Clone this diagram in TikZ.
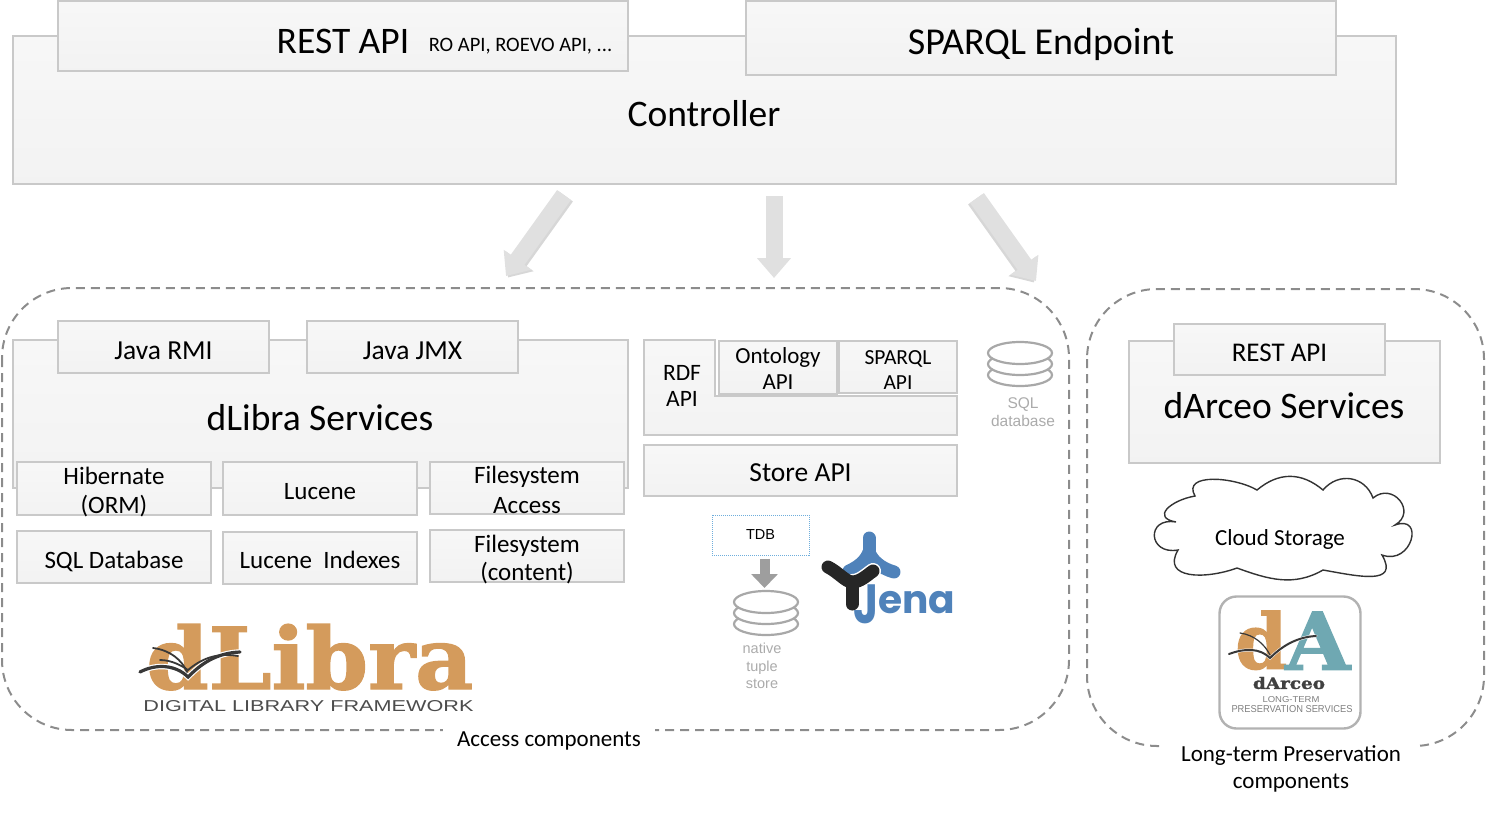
\documentclass[tikz,border=0pt]{standalone}
\usepackage{fontspec}
\setmainfont{Carlito}
\newfontfamily\greyFont{Liberation Sans}
\newfontfamily\slabFont{DejaVu Serif}[BoldFeatures={FakeBold=1.5}]
\newfontfamily\jenaFont{Poppins}
\usetikzlibrary{arrows.meta}
\definecolor{panelLine}{HTML}{C9C9C9}
\definecolor{dashLine}{HTML}{8C8C8C}
\definecolor{arrowGrey}{HTML}{E0E0E0}
\definecolor{arrowShade}{HTML}{BDBDBD}
\definecolor{dbGrey}{HTML}{A8A8A8}
\definecolor{labelGrey}{HTML}{ABABAB}
\definecolor{libraOrange}{HTML}{D49B5C}
\definecolor{arceoTeal}{HTML}{6FA8B2}
\definecolor{jenaBlue}{HTML}{4F82BA}
\definecolor{tdbBlue}{HTML}{6FAEDC}
\newcommand{\sizePx}[1]{\fontsize{#1}{#1}\selectfont}
\newcommand{\lowText}[2][6pt]{\raisebox{\dimexpr-#1-.25em\relax}[0pt][0pt]{\begin{tabular}{@{}c@{}}#2\end{tabular}}}
\begin{document}
\begin{tikzpicture}[x=1pt,y=-1pt,
                      panelNode/.style 2 args={rectangle,draw=panelLine,line width=2pt,top color=white!97!black,
                        bottom color=white!95!black,minimum width=#1,minimum height=#2,inner sep=0pt,outer sep=0pt,
                        align=center,font=\sizePx{25},text=black},
                      bigText/.style={font=\sizePx{37.5},inner sep=0pt},
                      groupBox/.style={draw=dashLine,line width=2pt,dash pattern=on 9pt off 6pt,rounded corners=70pt},
                      groupLabel/.style={fill=white,inner sep=0pt,align=center,font=\sizePx{23}},
                      blockArrow/.style={line width=17pt,draw=arrowGrey,-{Triangle[length=20pt,width=33pt]}},
                      blockShade/.style={line width=17pt,draw=arrowShade,opacity=.6,-{Triangle[length=20pt,width=33pt]}},
                      greyLabel/.style={font=\greyFont\sizePx{15.5},text=labelGrey,inner sep=0pt,align=center},
                      bookLine/.style={line width=3.2pt,draw=black!78,line cap=round},
                      dbStack/.pic={
                        \draw[dbGrey,line width=2.2pt,fill=white] (0,22) ellipse [x radius=32,y radius=11];
                        \draw[dbGrey,line width=2.2pt,fill=white] (0,11) ellipse [x radius=32,y radius=11];
                        \draw[dbGrey,line width=2.2pt,fill=white] (0,0) ellipse [x radius=32,y radius=11];
                      }]
    \useasboundingbox (0,0) rectangle (1487,822);

    \node [panelNode={1383pt}{148pt}] (controller) at (704.5,110) {};
    \node [panelNode={570pt}{70pt}] (restApi) at (343,36) {};
    \node [panelNode={590pt}{74pt}] (sparqlEndpoint) at (1041,38) {};
    \node [bigText] (restText) at (343,41) {REST API};
    \node [font=\sizePx{20.5},inner sep=0pt] (roText) at (520.5,46) {RO API, ROEVO API, ...};
    \node [bigText,font=\sizePx{38}] (sparqlText) at (1041,44) {SPARQL Endpoint};
    \node [bigText] (controllerText) at (704,114) {Controller};

    \coordinate (accessLeft) at (506,276);
    \coordinate (accessMid) at (774,278);
    \coordinate (accessRight) at (1036,281);
    \coordinate (controlLeft) at (564,195);
    \coordinate (controlMid) at (774,196);
    \coordinate (controlRight) at (977,198);
    \draw [blockShade] ([shift={(2,1.5)}]controlLeft) -- ([shift={(2,1.5)}]accessLeft);
    \draw [blockShade] ([shift={(-2,1.5)}]controlRight) -- ([shift={(-2,1.5)}]accessRight);
    \draw [blockArrow] (controlLeft) -- (accessLeft);
    \draw [blockArrow] (controlMid) -- (accessMid);
    \draw [blockArrow] (controlRight) -- (accessRight);

    \draw [groupBox] (2,288) rectangle (1069,730);
    \draw [groupBox] (1087,289) rectangle (1484,746);
    \node [groupLabel,minimum width=212pt,minimum height=27pt] (accessLabel) at (549,741) {Access components};
    \node [groupLabel,minimum width=256pt] (preservationLabel) at (1291,768.5) {Long-term Preservation\\[4pt]components};

    \node [panelNode={615pt}{148pt}] (dlibraServices) at (320.5,414) {};
    \node [panelNode={211pt}{52pt},font=\sizePx{27.5}] (javaRmi) at (163.5,347) {\lowText{Java RMI}};
    \node [panelNode={211pt}{52pt},font=\sizePx{27.5}] (javaJmx) at (412.5,347) {\lowText{Java JMX}};
    \node [bigText] (dlibraText) at (320,418) {dLibra Services};
    \node [panelNode={194pt}{53pt}] (hibernate) at (114,488.5) {\lowText[5.5pt]{Hibernate\\[4pt](ORM)}};
    \node [panelNode={194pt}{53pt}] (lucene) at (320,488.5) {\lowText{Lucene}};
    \node [panelNode={194pt}{52pt}] (fsAccess) at (527,488) {\lowText[5pt]{Filesystem\\[5pt]Access}};
    \node [panelNode={194pt}{52pt}] (sqlDatabase) at (114,557) {\lowText{SQL Database}};
    \node [panelNode={194pt}{52pt}] (luceneIndexes) at (320,557.5) {\lowText{Lucene~~Indexes}};
    \node [panelNode={194pt}{52pt}] (fsContent) at (527,555.5) {\lowText{Filesystem\\[3pt](content)}};

    \draw [draw=panelLine,line width=2pt,top color=white!97!black,bottom color=white!95!black]
      (644,340) -- (715,340) -- (715,396) -- (957,396) -- (957,435) -- (644,435) -- cycle;
    \node [font=\sizePx{23.5},inner sep=0pt,align=center] (rdfApi) at (682,386) {RDF\\[3pt]API};
    \node [panelNode={118pt}{53pt},font=\sizePx{23}] (ontologyApi) at (778,367) {\lowText[5pt]{Ontology\\[3pt]API}};
    \node [panelNode={118pt}{52pt},font=\sizePx{21.5}] (sparqlApi) at (898,367) {\lowText{SPARQL\\[3.5pt]API}};
    \node [panelNode={313pt}{51pt},font=\sizePx{27.5}] (storeApi) at (800.5,470.5) {\lowText[5pt]{Store API}};

    \pic at (1020,353) {dbStack};
    \node [greyLabel] (sqlLabel) at (1023,412) {SQL\\[3pt]database};

    \node [draw=tdbBlue,line width=1pt,densely dotted,minimum width=97pt,minimum height=40pt,inner sep=0pt,
      font=\greyFont\sizePx{14.5}] (tdb) at (760.5,535) {TDB};
    \pic at (766,602) {dbStack};
    \coordinate (tupleTop) at (764.5,588);
    \draw [line width=10pt,draw=black!38,-{Triangle[length=14pt,width=26pt]}] (tdb.south -| tupleTop) ++(0,3) -- (tupleTop);
    \node [greyLabel,font=\greyFont\sizePx{14.5}] (tupleLabel) at (762,666) {native\\[3pt]tuple\\[3pt]store};

    \draw [line width=13pt,draw=jenaBlue,line cap=round] (869,538) -- (869,555);
    \draw [line width=13pt,draw=jenaBlue,line cap=round] (849,571) .. controls (860,566) and (866,560) .. (869,552)
      .. controls (872,560) and (880,568) .. (894,572);
    \draw [line width=16pt,draw=white,line cap=round] (852,582) .. controls (860,582) and (866,576) .. (873,571);
    \draw [line width=13pt,draw=black!85,line cap=round] (828,567) .. controls (838,572) and (846,582) .. (852,582)
      .. controls (860,582) and (866,576) .. (873,571);
    \draw [line width=13pt,draw=black!85,line cap=round] (852,582) -- (852,604);
    \node [font=\jenaFont\bfseries\sizePx{46},text=jenaBlue,inner sep=0pt,anchor=base west] (jenaText) at (853,613) {\raisebox{-10pt}{\scalebox{.95}[1.2]{J}}\resizebox{77pt}{!}{ena}};

    \node [panelNode={311pt}{122pt}] (darceoServices) at (1284.5,402) {};
    \node [panelNode={211pt}{51pt},font=\sizePx{27}] (restDarceo) at (1279.5,349.5) {\lowText[6.5pt]{REST API}};
    \node [bigText] (darceoText) at (1284,406) {dArceo Services};

    \draw [line width=1.4pt,draw=black!80,fill=white] (1176,522)
      to[out=170,in=190,looseness=2] (1195,496)
      to[out=120,in=150,looseness=1.1] (1257,490)
      to[out=40,in=140,looseness=1.1] (1323,490)
      to[out=50,in=110,looseness=1.2] (1373,498)
      to[out=40,in=30,looseness=1.9] (1395,525)
      to[out=20,in=-20,looseness=2.5] (1382,555)
      to[out=-60,in=-10,looseness=1.5] (1323,570)
      to[out=-150,in=-20,looseness=1] (1237,568)
      to[out=-160,in=-120,looseness=1.4] (1178,550)
      to[out=-170,in=170,looseness=2.8] cycle;
    \node [font=\sizePx{23},inner sep=0pt] (cloudStorage) at (1280,539) {Cloud Storage};

    \node [inner sep=0pt,text=libraOrange,anchor=south west] (libraLogo) at (146,690.5) {\resizebox{327pt}{65pt}{\slabFont\bfseries dLibra}};
    \node [inner sep=0pt,text=black!70,font=\greyFont] (libraTag) at (308.5,706) {\resizebox{330pt}{11pt}{DIGITAL LIBRARY FRAMEWORK}};
    \draw [line width=5.5pt,draw=white,line cap=round] (140,672) .. controls (155,664) and (175,664) .. (188,677)
      .. controls (200,665) and (215,653) .. (240,652);
    \draw [bookLine] (140,672) .. controls (155,664) and (175,664) .. (188,677)
      .. controls (200,665) and (215,653) .. (240,652);
    \draw [bookLine,line width=1.8pt] (153,648) .. controls (170,650) and (182,660) .. (187,672);
    \draw [bookLine,line width=1.8pt] (160,660) .. controls (172,660) and (182,666) .. (188,670)
      .. controls (200,660) and (215,652) .. (238,656);

    \node [draw=black!30,line width=2.4pt,fill=white,rounded corners=17pt,minimum width=141pt,minimum height=132pt] (arceoLogo) at (1290,662.5) {};
    \node [inner sep=0pt,text=libraOrange,anchor=south west] (arceoD) at (1235,670) {\resizebox{52pt}{58pt}{\slabFont\bfseries d}};
    \node [inner sep=0pt,text=arceoTeal,anchor=south west] (arceoA) at (1285,670) {\resizebox{65pt}{58pt}{\slabFont\bfseries A}};
    \draw [line width=3pt,draw=white,line cap=round] (1229,654) .. controls (1245,648) and (1260,648) .. (1270,658)
      .. controls (1280,648) and (1295,637) .. (1316,636);
    \draw [bookLine,line width=2pt] (1229,654) .. controls (1245,648) and (1260,648) .. (1270,658)
      .. controls (1280,648) and (1295,637) .. (1316,636);
    \draw [bookLine,line width=1.2pt] (1240,633) .. controls (1255,635) and (1265,645) .. (1270,655);
    \node [inner sep=0pt,text=black!75] (arceoName) at (1289,683) {\resizebox{72pt}{12pt}{\slabFont\bfseries dArceo}};
    \node [inner sep=0pt,text=black!50,font=\greyFont] (arceoTag) at (1291,699.5) {\resizebox{57pt}{6pt}{LONG-TERM}};
    \node [inner sep=0pt,text=black!50,font=\greyFont] (arceoSub) at (1292,709) {\resizebox{121pt}{7pt}{PRESERVATION SERVICES}};
  \end{tikzpicture}
\end{document}
